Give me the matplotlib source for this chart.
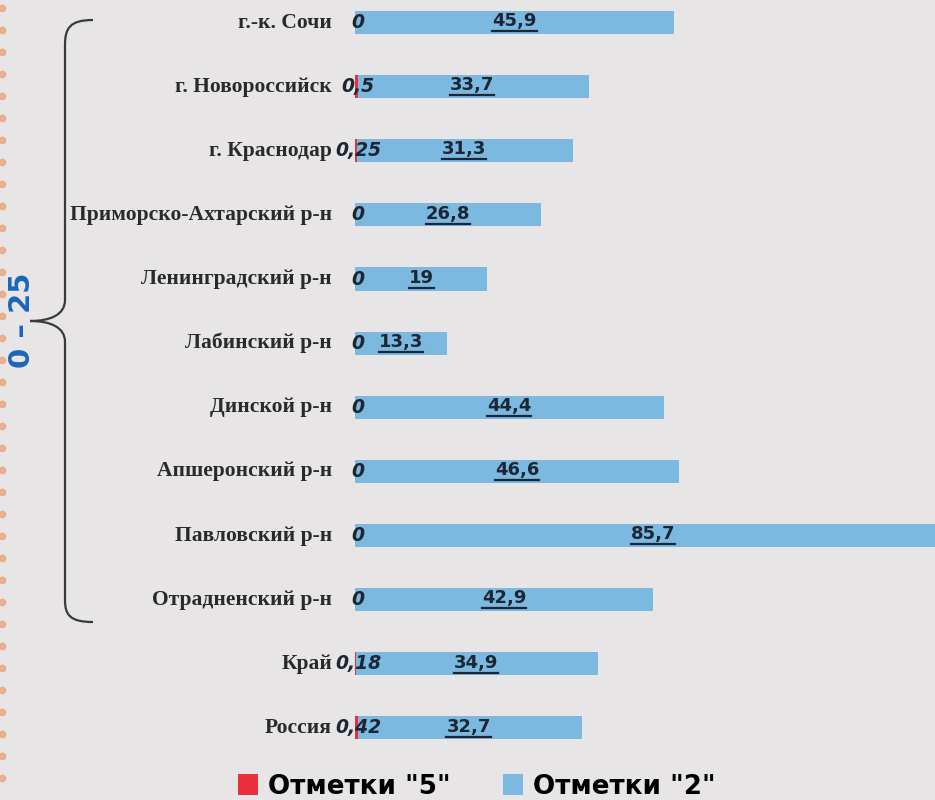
import matplotlib.pyplot as plt
from matplotlib.path import Path
from matplotlib.patches import PathPatch
from matplotlib.lines import Line2D

# данные
categories = ['г.-к. Сочи', 'г. Новороссийск', 'г. Краснодар', 'Приморско-Ахтарский р-н',
              'Ленинградский р-н', 'Лабинский р-н', 'Динской р-н', 'Апшеронский р-н',
              'Павловский р-н', 'Отрадненский р-н', 'Край', 'Россия']
marks_5 = [0, 0.5, 0.25, 0, 0, 0, 0, 0, 0, 0, 0.18, 0.42]
marks_2 = [45.9, 33.7, 31.3, 26.8, 19, 13.3, 44.4, 46.6, 85.7, 42.9, 34.9, 32.7]
legend_labels = ['Отметки "5"', 'Отметки "2"']

bg = '#e7e5e5'
blue = '#7bb9e0'
red = '#e8303c'
dark = '#1c2634'

def fmt(v):
    return ('%g' % v).replace('.', ',')

W, H = 935, 800
fig = plt.figure(figsize=(W / 100, H / 100), dpi=100, facecolor=bg)

# оверлей в пикселях для декора (скобка, рамка)
over = fig.add_axes([0, 0, 1, 1])
over.set_xlim(0, W)
over.set_ylim(H, 0)
over.axis('off')

# основная ось
ax = fig.add_axes([355 / W, 40 / H, 1 - 355 / W, 760 / H])
ax.set_facecolor('none')
ypos = list(range(len(categories)))
b2 = ax.barh(ypos, marks_2, height=0.36, color=blue, label=legend_labels[1])
b1 = ax.barh(ypos, marks_5, height=0.36, color=red, label=legend_labels[0])
ax.set_xlim(0, 83.45)
ax.set_ylim(11.5, -0.351)
ax.axis('off')

under = []
for i, c in enumerate(categories):
    ax.text(-3.3, i, c, ha='right', va='center', fontsize=15.5, fontweight='bold',
            family='Liberation Serif', color='#2a2a2a', clip_on=False)
    ax.text(0.45, i, fmt(marks_5[i]), ha='center', va='center', fontsize=13.5,
            fontweight='bold', style='italic', family='DejaVu Sans', color=dark)
    t = ax.text(marks_2[i] / 2, i - 0.02, fmt(marks_2[i]), ha='center', va='center',
                fontsize=13, fontweight='bold', family='DejaVu Sans', color=dark)
    under.append(t)

# легенда
fig.legend(handles=[b1, b2], labels=legend_labels, loc='lower center',
           bbox_to_anchor=(0.51, -0.029), ncol=2, frameon=False,
           handlelength=0.75, handleheight=0.85, handletextpad=0.4, columnspacing=2.0,
           prop={'family': 'DejaVu Sans', 'weight': 'bold', 'size': 18.8})

# фигурная скобка
verts = [(93, 20), (70, 20), (65, 28), (65, 45),
         (65, 300),
         (65, 315), (50, 321), (30, 321),
         (50, 321), (65, 327), (65, 342),
         (65, 600),
         (65, 615), (70, 622), (93, 622)]
codes = [Path.MOVETO, Path.CURVE4, Path.CURVE4, Path.CURVE4,
         Path.LINETO,
         Path.CURVE4, Path.CURVE4, Path.CURVE4,
         Path.CURVE4, Path.CURVE4, Path.CURVE4,
         Path.LINETO,
         Path.CURVE4, Path.CURVE4, Path.CURVE4]
over.add_patch(PathPatch(Path(verts, codes), fill=False, lw=1.6, ec='#3a3a3a'))
over.text(22, 320, '0 – 25', rotation=90, ha='center', va='center', fontsize=21,
          fontweight='bold', color='#1a67b8', family='DejaVu Sans')

# оранжевая точечная рамка слева
dots_y = list(range(8, H, 22))
over.plot([1.5] * len(dots_y), dots_y, 'o', ms=4.5, color='#eaa27a', alpha=0.75, clip_on=False)

# подчёркивание подписей
fig.canvas.draw()
r = fig.canvas.get_renderer()
for t in under:
    bb = t.get_window_extent(r)
    yy = (bb.y0 - 1) / H
    fig.add_artist(Line2D([bb.x0 / W, bb.x1 / W], [yy, yy], lw=1.6, color=dark))

fig.savefig('out.png', dpi=100, facecolor=bg)
